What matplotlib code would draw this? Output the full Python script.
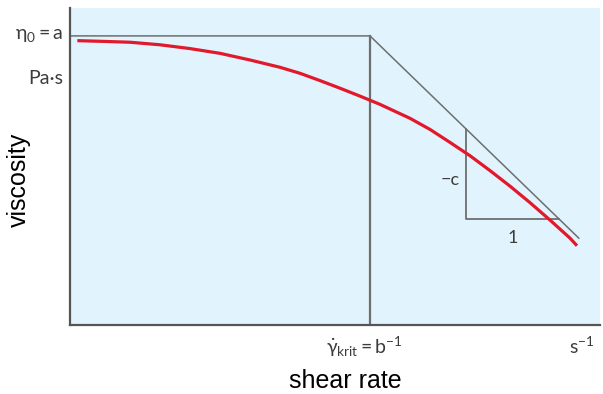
import matplotlib
matplotlib.use("Agg")
import matplotlib.pyplot as plt

# Flow curve of a shear-thinning fluid (arbitrary units on both axes)
shear = [1.38, 5.66, 11.32, 16.98, 22.64, 28.30, 33.96, 39.62, 43.40, 47.17,
         50.94, 54.72, 58.49, 64.15, 67.92, 71.70, 75.47, 79.25, 83.02, 86.79,
         90.57, 94.34, 95.66]
viscosity = [89.7, 89.5, 89.2, 88.4, 87.2, 85.7, 83.6, 81.3, 79.4, 77.1,
             74.7, 72.2, 69.6, 65.2, 61.7, 57.6, 53.4, 48.7, 43.8, 38.6,
             33.1, 27.4, 25.0]

# Asymptotes: zero-shear plateau and power-law tangent
eta0 = 91.2
gamma_crit = 56.6
tangent_end = (96.0, 27.4)

# Slope triangle
tri_x = [74.7, 92.3]
tri_y_low = 33.4

unit_y = 77.9
unit_x = 96.6

GRAY = "#6e6e6e"
TEXT = "#3c3c3c"
LABEL_FONT = "Lato"


def main():
    plt.rcParams["mathtext.fontset"] = "custom"
    plt.rcParams["mathtext.rm"] = LABEL_FONT
    plt.rcParams["mathtext.it"] = LABEL_FONT + ":italic"
    plt.rcParams["mathtext.fallback"] = "stixsans"

    fig = plt.figure(figsize=(6.03, 3.94), dpi=100)
    ax = fig.add_axes([70 / 603, 69 / 394, 530 / 603, 317 / 394])
    ax.set_facecolor("#e1f3fd")
    ax.set_xlim(0, 100)
    ax.set_ylim(0, 100)

    for side in ("top", "right"):
        ax.spines[side].set_visible(False)
    for side in ("left", "bottom"):
        ax.spines[side].set_color("#555555")
        ax.spines[side].set_linewidth(1.6)
    ax.set_xticks([])
    ax.set_yticks([])

    # tangent lines
    slope = (tangent_end[1] - eta0) / (tangent_end[0] - gamma_crit)
    ax.plot([0, gamma_crit, tangent_end[0]], [eta0, eta0, tangent_end[1]],
            color=GRAY, lw=1.1, solid_joinstyle="miter")
    ax.plot([gamma_crit, gamma_crit], [0, eta0], color=GRAY, lw=1.6)

    tri_top = eta0 + slope * (tri_x[0] - gamma_crit)
    ax.plot([tri_x[0], tri_x[0], tri_x[1]], [tri_top, tri_y_low, tri_y_low],
            color=GRAY, lw=1.3)
    ax.text(tri_x[0] - 1.2, (tri_top + tri_y_low) / 2 - 2, "\u2212c",
            ha="right", va="center", fontsize=13, color=TEXT, family=LABEL_FONT)
    ax.text((tri_x[0] + tri_x[1]) / 2, tri_y_low - 6, "1",
            ha="center", va="center", fontsize=13, color=TEXT, family=LABEL_FONT)

    ax.plot(shear, viscosity, color="#e2182b", lw=2.3, solid_capstyle="butt",
            solid_joinstyle="round")

    # axis annotations
    ax.text(-1.3, eta0 + 0.5, r"$\mathrm{\eta}_0 = \mathrm{a}$", ha="right",
            va="center", fontsize=14, color=TEXT, clip_on=False)
    ax.text(-1.3, unit_y, "Pa\u00b7s", ha="right", va="center",
            fontsize=14, color=TEXT, family=LABEL_FONT, clip_on=False)
    ax.text(gamma_crit - 1, -7, r"$\dot{\mathrm{\gamma}}_{\mathrm{krit}} = \mathrm{b}^{-1}$",
            ha="center", va="center", fontsize=14, color=TEXT, clip_on=False)
    ax.text(unit_x, -7, r"$\mathrm{s}^{-1}$", ha="center", va="center",
            fontsize=14, color=TEXT, clip_on=False)

    fig.text(345 / 603, 1 - 381 / 394, "shear rate", ha="center", va="center",
             fontsize=18, family="Liberation Sans")
    fig.text(19 / 603, 1 - 180 / 394, "viscosity", ha="center", va="center",
             rotation=90, fontsize=18, family="Liberation Sans")

    fig.savefig("out.png", dpi=100)


if __name__ == "__main__":
    main()
